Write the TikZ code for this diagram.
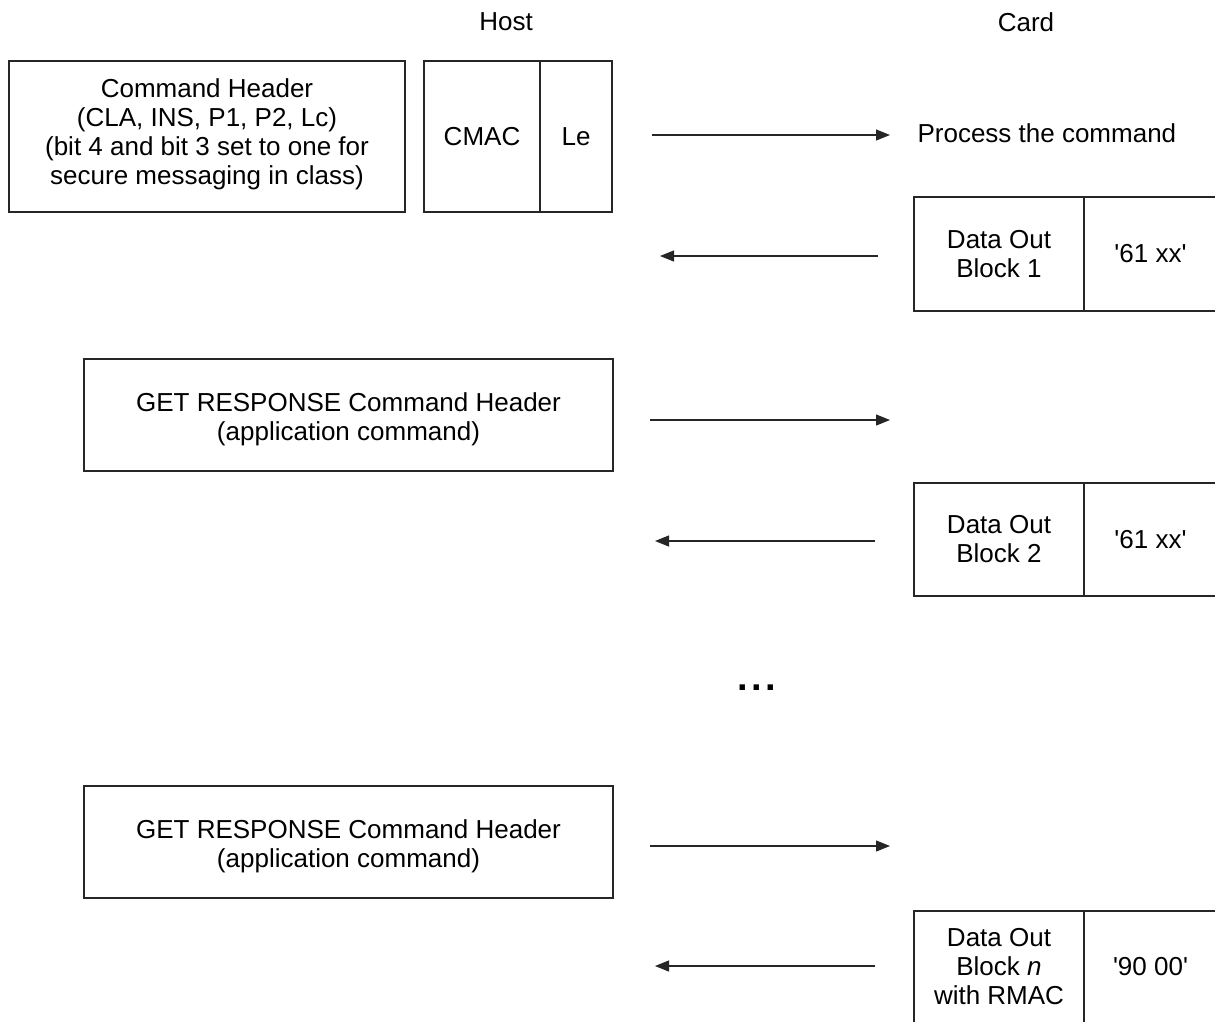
\documentclass[tikz,border=0pt]{standalone}
\usepackage{fontspec}
\setmainfont{Liberation Sans}[Ligatures=TeXOff]
\usetikzlibrary{arrows.meta}
\begin{document}
\begin{tikzpicture}[x=1pt,y=-1pt,
  every node/.style={font=\fontsize{26}{29}\selectfont, text=black},
  frame/.style={draw=black!85, line width=1.2pt, inner sep=0pt, align=center},
  caption/.style={align=center, inner sep=0pt},
  msg/.style={draw=black!85, line width=1.2pt, -{Triangle[length=14pt,width=11pt]}},
]
\useasboundingbox (0,0) rectangle (1215,1021);

% column titles
\node (host) at (506,22) {Host};
\node (card) at (1026,22) {Card};

% first command
\node[frame, minimum width=396pt, minimum height=151pt] (hdr) at (207,136.5) {};
\node[caption] (hdrt) at ([yshift=2pt]hdr.center)
  {Command Header\\(CLA, INS, P1, P2, Lc)\\(bit 4 and bit 3 set to one for\\secure messaging in class)};
\node[frame, minimum width=116pt, minimum height=151pt] (cmac) at (482,136.5) {CMAC};
\node[frame, minimum width=72pt, minimum height=151pt] (le) at (576,136.5) {Le};
\coordinate (c1a) at (652,135);
\coordinate (c1b) at (890,135);
\draw[msg] (c1a) -- (c1b);
\node[anchor=west] (proc) at (914,133) {Process the command};

% response block 1
\node[frame, minimum width=170pt, minimum height=114pt] (d1) at (999,254) {Data Out\\Block 1};
\node[frame, minimum width=133pt, minimum height=114pt] (s1) at (1150.5,254) {'61 xx'};
\coordinate (r1a) at (878,256);
\coordinate (r1b) at (660,256);
\draw[msg] (r1a) -- (r1b);

% GET RESPONSE 1
\node[frame, minimum width=529pt, minimum height=112pt] (g1) at (348.5,415) {};
\node[caption] (g1t) at ([yshift=-4pt]g1.center)
  {GET RESPONSE Command Header\\(application command)};
\coordinate (c2a) at (650,420);
\coordinate (c2b) at (890,420);
\draw[msg] (c2a) -- (c2b);

% response block 2
\node[frame, minimum width=170pt, minimum height=113pt] (d2) at (999,539.5) {Data Out\\Block 2};
\node[frame, minimum width=133pt, minimum height=113pt] (s2) at (1150.5,539.5) {'61 xx'};
\coordinate (r2a) at (875,541);
\coordinate (r2b) at (655,541);
\draw[msg] (r2a) -- (r2b);

% continuation
\node[anchor=base, inner sep=0pt] (dots) at (757,690.5)
  {\fontsize{38}{40}\selectfont\bfseries .\hspace{3.4pt}.\hspace{3.4pt}.};

% GET RESPONSE n
\node[frame, minimum width=529pt, minimum height=112pt] (g2) at (348.5,842) {};
\node[caption] (g2t) at ([yshift=-4pt]g2.center)
  {GET RESPONSE Command Header\\(application command)};
\coordinate (c3a) at (650,846);
\coordinate (c3b) at (890,846);
\draw[msg] (c3a) -- (c3b);

% last response block
\node[frame, minimum width=170pt, minimum height=112pt] (dn) at (999,967) {Data Out\\Block \textit{n}\\with RMAC};
\node[frame, minimum width=133pt, minimum height=112pt] (sn) at (1150.5,967) {'90 00'};
\coordinate (r3a) at (875,966);
\coordinate (r3b) at (655,966);
\draw[msg] (r3a) -- (r3b);
\end{tikzpicture}
\end{document}
